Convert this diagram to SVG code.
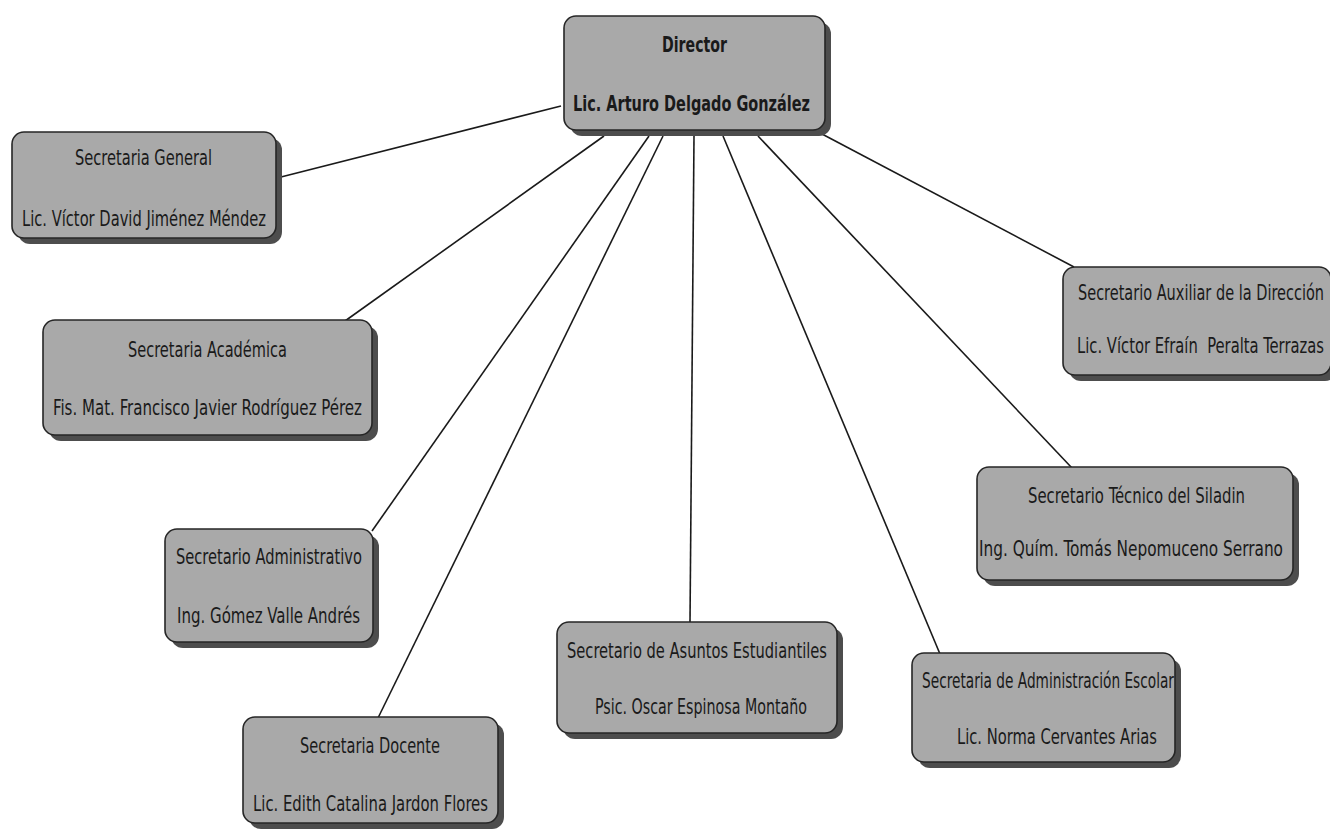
<svg xmlns="http://www.w3.org/2000/svg" width="1330" height="829" viewBox="0 0 1330 829">
  <style>
    .box { fill: #a9a9a9; stroke: #262626; stroke-width: 1.6; }
    .shadow { fill: #4d4d4d; }
    .lbl { font-family: "DejaVu Sans Condensed", "DejaVu Sans", sans-serif; font-size: 21px; fill: #1a1a1a; }
    .bold { font-weight: bold; }
    .conn line { stroke: #1a1a1a; stroke-width: 1.6; }
  </style>
  <defs>
    <linearGradient id="fillGrad" x1="0" y1="0" x2="0" y2="1">
      <stop offset="0" stop-color="#b0b0b0"/>
      <stop offset="1" stop-color="#a2a2a2"/>
    </linearGradient>
  </defs>
  <rect width="1330" height="829" fill="#ffffff"/>

  <!-- connectors from the director to each office -->
  <g id="connectors" class="conn">
    <line x1="561" y1="106" x2="281" y2="177"/>
    <line x1="604" y1="136" x2="345" y2="321"/>
    <line x1="649" y1="136" x2="372" y2="531"/>
    <line x1="663" y1="136" x2="378" y2="718"/>
    <line x1="694" y1="136" x2="690" y2="623"/>
    <line x1="723" y1="136" x2="940" y2="654"/>
    <line x1="758" y1="136" x2="1072" y2="468"/>
    <line x1="822" y1="134" x2="1074" y2="267"/>
  </g>

  <g id="director">
    <rect class="shadow" x="570" y="22" width="261" height="114" rx="12"/>
    <rect class="box" x="564" y="16" width="261" height="114" rx="12" fill="url(#fillGrad)"/>
    <text class="lbl bold" x="662" y="52" textLength="65" lengthAdjust="spacingAndGlyphs">Director</text>
    <text class="lbl bold" x="573" y="111" textLength="237" lengthAdjust="spacingAndGlyphs">Lic. Arturo Delgado González</text>
  </g>

  <g id="sec-general">
    <rect class="shadow" x="18" y="138" width="264" height="106" rx="12"/>
    <rect class="box" x="12" y="132" width="264" height="106" rx="12"/>
    <text class="lbl" x="75" y="165" textLength="137" lengthAdjust="spacingAndGlyphs">Secretaria General</text>
    <text class="lbl" x="22" y="226" textLength="244" lengthAdjust="spacingAndGlyphs">Lic. Víctor David Jiménez Méndez</text>
  </g>

  <g id="sec-academica">
    <rect class="shadow" x="49" y="326" width="329" height="115" rx="12"/>
    <rect class="box" x="43" y="320" width="329" height="115" rx="12"/>
    <text class="lbl" x="128" y="357" textLength="159" lengthAdjust="spacingAndGlyphs">Secretaria Académica</text>
    <text class="lbl" x="53" y="415" textLength="309" lengthAdjust="spacingAndGlyphs">Fis. Mat. Francisco Javier Rodríguez Pérez</text>
  </g>

  <g id="sec-administrativo">
    <rect class="shadow" x="171" y="535" width="208" height="113" rx="12"/>
    <rect class="box" x="165" y="529" width="208" height="113" rx="12"/>
    <text class="lbl" x="176" y="564" textLength="186" lengthAdjust="spacingAndGlyphs">Secretario Administrativo</text>
    <text class="lbl" x="177" y="623" textLength="183" lengthAdjust="spacingAndGlyphs">Ing. Gómez Valle Andrés</text>
  </g>

  <g id="sec-docente">
    <rect class="shadow" x="249" y="723" width="255" height="106" rx="12"/>
    <rect class="box" x="243" y="717" width="255" height="106" rx="12"/>
    <text class="lbl" x="300" y="753" textLength="140" lengthAdjust="spacingAndGlyphs">Secretaria Docente</text>
    <text class="lbl" x="253" y="811" textLength="235" lengthAdjust="spacingAndGlyphs">Lic. Edith Catalina Jardon Flores</text>
  </g>

  <g id="sec-estudiantiles">
    <rect class="shadow" x="563" y="628" width="280" height="111" rx="12"/>
    <rect class="box" x="557" y="622" width="280" height="111" rx="12"/>
    <text class="lbl" x="567" y="658" textLength="260" lengthAdjust="spacingAndGlyphs">Secretario de Asuntos Estudiantiles</text>
    <text class="lbl" x="595" y="714" textLength="212" lengthAdjust="spacingAndGlyphs">Psic. Oscar Espinosa Montaño</text>
  </g>

  <g id="sec-escolar">
    <rect class="shadow" x="918" y="659" width="263" height="109" rx="12"/>
    <rect class="box" x="912" y="653" width="263" height="109" rx="12"/>
    <text class="lbl" x="922" y="688" textLength="252" lengthAdjust="spacingAndGlyphs">Secretaria de Administración Escolar</text>
    <text class="lbl" x="957" y="744" textLength="200" lengthAdjust="spacingAndGlyphs">Lic. Norma Cervantes Arias</text>
  </g>

  <g id="sec-siladin">
    <rect class="shadow" x="983" y="473" width="316" height="113" rx="12"/>
    <rect class="box" x="977" y="467" width="316" height="113" rx="12"/>
    <text class="lbl" x="1028" y="503" textLength="217" lengthAdjust="spacingAndGlyphs">Secretario Técnico del Siladin</text>
    <text class="lbl" x="979" y="556" textLength="304" lengthAdjust="spacingAndGlyphs">Ing. Quím. Tomás Nepomuceno Serrano</text>
  </g>

  <g id="sec-auxiliar">
    <rect class="shadow" x="1069" y="273" width="268" height="108" rx="12"/>
    <rect class="box" x="1063" y="267" width="268" height="108" rx="12"/>
    <text class="lbl" x="1078" y="300" textLength="246" lengthAdjust="spacingAndGlyphs">Secretario Auxiliar de la Dirección</text>
    <text class="lbl" x="1077" y="353" textLength="247" lengthAdjust="spacingAndGlyphs" xml:space="preserve">Lic. Víctor Efraín  Peralta Terrazas</text>
  </g>
</svg>
